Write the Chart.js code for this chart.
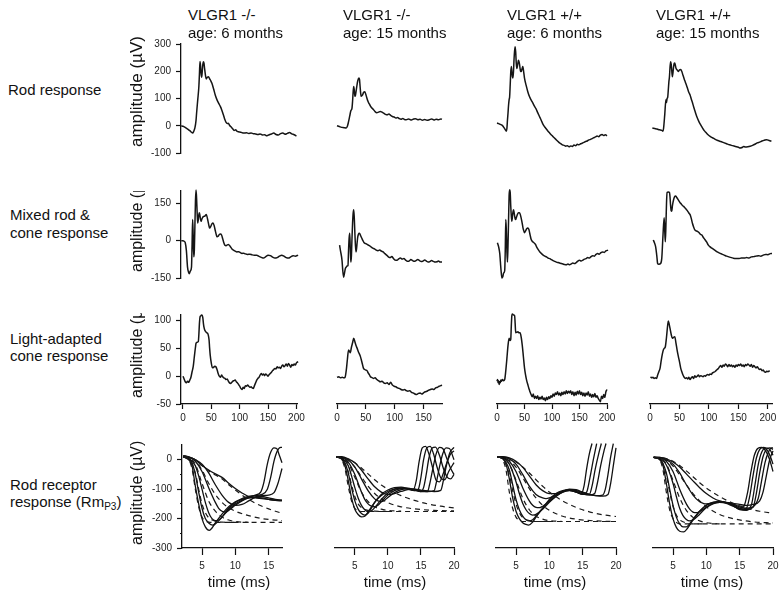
<!DOCTYPE html>
<html><head><meta charset="utf-8">
<script src="https://cdn.jsdelivr.net/npm/chart.js@4.4.1/dist/chart.umd.min.js"></script>
<style>
html,body{margin:0;padding:0;background:#fff;}
#fig{position:relative;width:783px;height:600px;overflow:hidden;font-family:"Liberation Sans",Arial,Helvetica,sans-serif;color:#111;}
canvas{position:absolute;}
.t{position:absolute;white-space:nowrap;font-size:15px;line-height:18px;}
.t sub{font-size:10px;vertical-align:-3px;line-height:0;}
.yt{position:absolute;overflow:hidden;width:26px;}
.yt span{position:absolute;left:0;transform-origin:0 0;transform:rotate(-90deg);white-space:nowrap;line-height:26px;}
</style></head><body><div id="fig"></div>
<script>
// ---------- text ----------
const colHeads = [["VLGR1 -/-","age: 6 months"],["VLGR1 -/-","age: 15 months"],["VLGR1 +/+","age: 6 months"],["VLGR1 +/+","age: 15 months"]];
const rowLabels = [["Rod response"],["Mixed rod &","cone response"],["Light-adapted","cone response"],["Rod receptor","response (Rm<sub>P3</sub>)"]];
const yTitle = "amplitude (µV)";
const xTitle = "time (ms)";

// ---------- tick values ----------
const rodTicks = [-100,0,100,200,300];
const mixTicks = [-150,0,150];
const laTicks = [-50,0,50,100];
const rmTicks = [-300,-250,-200,-150,-100,-50,0];
const timeTicks = [0,50,100,150,200];
const timeTicksKO15 = [0,50,100,150];
const msTicks = [5,10,15,20];
const msTicksKO6 = [5,10,15];

// ---------- Row 1: rod response [time ms, µV] ----------
const rodKO6 = [[-3,0],[0,-2],[3,-5],[6,-9],[9,-13],[12,-18],[15,-24],[17,-27],[19,-20],[21,-8],[23,20],[24,47],[26,95],[28,144],[29,190],[30,236],[31,220],[32,190],[33,178],[34,200],[35,225],[36,235],[37,230],[38,212],[40,180],[41,172],[43,178],[45,180],[47,172],[49,165],[51,156],[54,135],[57,112],[60,95],[63,82],[66,70],[68,60],[70,48],[72,35],[74,22],[76,12],[78,8],[80,9],[82,2],[85,-5],[88,-12],[90,-17],[93,-15],[95,-20],[98,-22],[102,-24],[107,-27],[112,-26],[116,-28],[120,-27],[124,-29],[128,-30],[132,-32],[136,-30],[140,-34],[144,-33],[148,-37],[152,-33],[156,-30],[160,-27],[164,-32],[168,-34],[172,-29],[176,-27],[180,-31],[184,-28],[188,-25],[192,-30],[196,-33],[200,-38]];
const rodKO15 = [[0,0],[4,-3],[8,-6],[12,-7],[16,-8],[18,-2],[20,15],[22,35],[24,55],[26,65],[27,90],[28,125],[29,144],[30,130],[31,108],[32,112],[34,140],[36,165],[38,175],[39,170],[40,145],[41,120],[42,108],[44,112],[46,122],[48,125],[50,115],[52,100],[54,88],[56,80],[58,72],[60,66],[63,60],[66,52],[69,48],[72,50],[75,52],[78,50],[81,46],[84,42],[87,40],[90,43],[93,38],[96,34],[99,32],[102,28],[105,30],[108,26],[111,24],[114,27],[117,23],[120,22],[124,25],[128,21],[132,24],[136,26],[140,22],[144,24],[148,20],[152,23],[156,20],[160,22],[164,25],[168,21],[172,24],[176,22],[180,25],[182,24]];
const rodWT6 = [[0,10],[3,8],[6,5],[9,2],[11,-2],[13,-8],[15,-14],[17,-20],[18,-10],[19,20],[20,46],[21,75],[22,95],[23,107],[24,150],[25,195],[26,217],[27,200],[28,180],[29,175],[30,200],[31,245],[32,275],[33,290],[34,270],[35,230],[36,210],[37,217],[38,230],[39,240],[40,235],[41,225],[42,210],[43,200],[44,199],[45,205],[46,212],[47,217],[48,205],[49,190],[50,175],[53,148],[56,125],[59,107],[62,95],[65,84],[68,72],[71,62],[74,48],[77,35],[80,22],[83,8],[86,-2],[89,-10],[92,-18],[95,-25],[98,-32],[101,-38],[104,-44],[107,-50],[110,-56],[113,-62],[116,-66],[119,-70],[122,-72],[125,-75],[128,-73],[131,-77],[134,-74],[137,-76],[140,-71],[143,-73],[146,-68],[149,-70],[152,-66],[155,-64],[158,-61],[161,-58],[164,-56],[167,-52],[170,-50],[173,-47],[176,-44],[179,-41],[182,-38],[185,-40],[188,-34],[191,-32],[194,-36],[197,-33],[200,-37]];
const rodWT15 = [[4,-8],[8,-10],[12,-12],[16,-15],[20,-17],[22,-20],[23,-10],[25,40],[27,95],[28,85],[29,100],[30,104],[31,130],[32,160],[33,180],[34,215],[35,235],[36,225],[37,200],[38,180],[39,195],[40,215],[41,228],[42,230],[43,222],[44,212],[46,205],[48,199],[50,205],[52,206],[54,199],[56,185],[58,172],[60,160],[62,148],[64,135],[66,122],[68,113],[70,98],[72,85],[74,70],[76,56],[78,42],[80,30],[83,15],[86,3],[89,-8],[92,-18],[95,-25],[98,-32],[102,-39],[106,-44],[110,-49],[115,-54],[120,-58],[125,-62],[130,-66],[135,-70],[140,-73],[145,-76],[150,-79],[153,-82],[156,-80],[159,-76],[162,-78],[166,-77],[170,-75],[174,-72],[178,-68],[182,-63],[186,-60],[190,-56],[194,-53],[198,-51],[202,-54],[206,-57]];

// ---------- Row 2: mixed rod & cone response ----------
const mixKO6 = [[-3,0],[0,0],[2,-2],[4,-8],[6,-40],[8,-106],[10,-128],[11,-133],[13,-122],[15,-106],[16,-20],[17,85],[18,20],[19,-65],[20,-40],[21,60],[22,160],[23,204],[24,170],[25,110],[26,71],[27,85],[28,105],[29,112],[30,100],[31,85],[32,78],[33,85],[35,95],[37,98],[39,100],[41,105],[42,100],[44,80],[46,58],[47,51],[49,58],[51,68],[53,71],[55,60],[57,40],[59,22],[60,16],[62,18],[64,25],[66,27],[68,23],[70,8],[72,-8],[74,-18],[76,-20],[78,-17],[80,-15],[83,-22],[86,-32],[89,-38],[92,-42],[95,-45],[98,-44],[101,-48],[104,-51],[107,-50],[110,-53],[114,-55],[118,-54],[122,-57],[126,-58],[130,-58],[134,-63],[138,-67],[142,-70],[146,-64],[150,-58],[154,-60],[158,-66],[162,-70],[166,-68],[170,-62],[174,-58],[178,-62],[182,-68],[186,-70],[190,-65],[194,-60],[198,-62],[203,-58]];
const mixKO15 = [[4.5,-18],[6,-40],[8.7,-79],[10,-120],[11.5,-147],[13,-130],[14.5,-112],[16,-106],[17.5,-102],[19,-100],[20,-40],[21,10],[22,30],[23,-30],[24,-86],[25,-60],[26,10],[27,70],[28,110],[29,125],[30,90],[31,30],[32,-20],[33,-45],[34,-30],[35,-5],[36,15],[37,25],[38,30],[39,30],[41,20],[43,10],[45,0],[47,-8],[50,-12],[53,-16],[56,-20],[59,-25],[62,-30],[65,-33],[68,-38],[71,-40],[74,-37],[77,-42],[80,-45],[83,-52],[86,-58],[89,-65],[92,-68],[95,-64],[98,-72],[101,-78],[104,-79],[107,-73],[110,-70],[113,-74],[116,-72],[119,-78],[122,-83],[125,-82],[128,-76],[131,-80],[134,-83],[137,-80],[140,-76],[143,-80],[146,-84],[149,-82],[152,-78],[155,-82],[158,-86],[161,-84],[164,-80],[167,-83],[170,-86],[173,-85],[176,-82],[179,-86],[182,-86]];
const mixWT6 = [[0.7,-8],[3,-25],[5,-51],[7,-110],[9,-150],[10.5,-145],[12,-130],[14,-120],[15,-40],[16,85],[17,40],[18,-40],[19,-86],[20,-20],[21,80],[22,180],[23,205],[24,195],[25,140],[26,100],[27,78],[28,95],[29,115],[30,125],[31,115],[32,100],[33,88],[34,85],[35,92],[37,105],[39,112],[41,112],[43,100],[45,80],[47,55],[48,45],[50,32],[52,40],[54,48],[56,51],[58,45],[60,25],[62,6],[64,-2],[66,-6],[68,-10],[70,-15],[72,-25],[75,-36],[78,-45],[81,-52],[84,-58],[87,-62],[90,-65],[93,-70],[96,-72],[99,-76],[102,-80],[105,-83],[108,-86],[111,-88],[114,-90],[117,-92],[120,-94],[123,-96],[126,-97],[129,-94],[132,-97],[135,-93],[138,-90],[141,-92],[144,-88],[147,-82],[150,-79],[153,-82],[156,-78],[159,-74],[162,-72],[165,-68],[168,-70],[171,-64],[174,-60],[177,-62],[180,-55],[183,-51],[186,-54],[189,-48],[192,-45],[195,-47],[198,-41],[202,-38]];
const mixWT15 = [[5.6,3],[7.5,-8],[9.6,-25],[11.5,-60],[13,-92],[15,-95],[18,-92],[20,-70],[22,20],[24,92],[25,40],[26,-4],[27,60],[28,150],[29,194],[31,196],[33,194],[34,175],[35,140],[36,120],[37,119],[38,140],[40,165],[42,178],[43.5,180],[45,175],[47,168],[49,160],[51,153],[53,148],[55,142],[57,138],[59,133],[61,128],[63,122],[65,115],[67,108],[68,105],[70,90],[72,70],[74,55],[76,44],[78,40],[80,38],[82,35],[84,30],[86,25],[88,23],[90,15],[93,5],[96,-5],[99,-18],[102,-25],[105,-30],[108,-35],[111,-40],[114,-45],[118,-50],[122,-54],[126,-58],[130,-62],[135,-66],[140,-69],[145,-72],[150,-72],[155,-70],[160,-70],[164,-68],[168,-70],[172,-65],[176,-64],[180,-62],[184,-60],[188,-62],[192,-58],[196,-55],[200,-56],[204,-52],[207,-51]];

// ---------- Row 3: light-adapted cone response ----------
const laKO6 = [[0,0],[2,-5],[4,-10],[6,-12],[8,-9],[10,-11],[12,-7],[14,-2],[16,8],[18,17],[20,35],[22,52],[23,59],[25,61],[27,62],[28,75],[29,95],[30,106],[31,108],[33,110],[35,105],[36,95],[37,88],[38,84],[40,80],[42,78],[44,76],[45,72],[46,65],[47,50],[48,38],[50,23],[52,15],[54,16],[56,18],[58,17],[60,12],[62,5],[64,0],[66,-2],[68,2],[70,-1],[72,-3],[74,-4],[76,-6],[78,-5],[80,-9],[82,-12],[84,-13],[86,-11],[88,-9],[90,-8],[92,-7],[94,-10],[96,-12],[98,-15],[100,-18],[102,-22],[104,-24],[106,-20],[108,-22],[110,-17],[112,-18],[114,-16],[116,-18],[118,-20],[120,-19],[122,-21],[124,-22],[126,-17],[128,-12],[130,-7],[132,-4],[134,-2],[136,2],[138,5],[140,2],[142,4],[144,1],[146,4],[148,2],[150,0],[152,3],[154,5],[156,7],[158,10],[160,12],[162,14],[164,13],[166,17],[168,15],[170,16],[172,14],[174,18],[176,20],[178,17],[180,19],[182,22],[184,18],[186,23],[188,20],[190,16],[192,21],[194,19],[196,22],[198,20],[200,24],[203,26]];
const laKO15 = [[0,-2],[3,-1],[6,-3],[9,-2],[12,-3],[14,-2],[16,10],[18,30],[20,47],[22,44],[23,42],[25,52],[27,60],[29,68],[31,62],[33,55],[35,50],[37,44],[40,37],[42,30],[44,22],[46,14],[48,12],[50,11],[52,10],[54,6],[56,3],[58,-1],[60,-2],[63,-4],[66,-3],[69,-6],[72,-8],[75,-10],[78,-9],[81,-12],[84,-13],[87,-12],[90,-15],[93,-11],[96,-16],[99,-18],[102,-19],[105,-21],[108,-22],[111,-24],[114,-25],[117,-24],[120,-26],[123,-27],[126,-26],[129,-29],[132,-30],[135,-32],[138,-33],[141,-31],[144,-30],[147,-32],[150,-30],[153,-28],[156,-27],[159,-25],[162,-24],[165,-23],[168,-24],[171,-21],[174,-20],[177,-18],[180,-17],[182,-16]];
const laWT6 = [[0,-9],[1,-6],[2,-12],[3,-8],[4,-15],[5,-10],[6,-12],[7,-7],[8,-9],[10,-6],[12,-8],[14,-6],[16,10],[18,32],[20,55],[22,68],[24,64],[25,66],[26,90],[27,109],[28,112],[30,110],[32,109],[33,95],[34,78],[36,79],[38,80],[40,78],[42,78],[44,70],[46,55],[48,35],[50,15],[52,2],[54,-8],[56,-15],[58,-22],[59,-25],[60,-28],[62,-33],[64,-37],[66,-32],[68,-40],[70,-36],[72,-40],[74,-35],[76,-42],[78,-38],[80,-41],[82,-36],[84,-42],[86,-39],[88,-44],[90,-38],[92,-42],[94,-37],[96,-40],[98,-35],[100,-38],[102,-32],[104,-36],[106,-30],[108,-33],[110,-28],[112,-34],[114,-30],[116,-35],[118,-29],[120,-33],[122,-28],[124,-32],[126,-26],[128,-31],[130,-27],[132,-30],[134,-26],[136,-33],[138,-28],[140,-35],[142,-29],[144,-34],[146,-27],[148,-32],[150,-26],[152,-33],[154,-29],[156,-35],[158,-30],[160,-36],[162,-30],[164,-34],[166,-28],[168,-36],[170,-32],[172,-38],[174,-33],[176,-37],[178,-31],[180,-38],[182,-35],[184,-40],[186,-43],[188,-46],[190,-36],[192,-40],[194,-33],[196,-38],[198,-28],[200,-24]];
const laWT15 = [[1,-1],[3,-3],[5,-2],[7,-4],[9,-3],[11,-4],[13,2],[15,8],[17,14],[19,28],[21,40],[22.6,47],[24,50],[26,53],[28,70],[30,92],[31,99],[32,96],[34,86],[36,75],[38,68],[40,70],[42,71],[44,60],[46,47],[48,36],[50,26],[52,15],[54,8],[56,2],[58,-2],[60,-4],[62,-3],[64,-5],[66,-2],[68,-6],[70,-3],[72,-1],[74,-4],[76,1],[78,-2],[80,0],[82,2],[84,-1],[86,1],[88,0],[90,-1],[92,1],[94,0],[96,2],[98,3],[100,2],[102,4],[104,3],[106,6],[108,7],[110,8],[112,10],[114,12],[116,14],[118,17],[120,19],[122,16],[124,20],[126,18],[128,22],[130,20],[132,17],[134,21],[136,18],[138,20],[140,17],[142,19],[144,16],[146,20],[148,18],[150,21],[152,19],[154,22],[156,18],[158,20],[160,17],[162,21],[164,19],[166,22],[168,20],[170,18],[172,21],[174,16],[176,19],[178,17],[180,15],[182,17],[184,14],[186,12],[188,13],[190,10],[192,11],[194,8],[196,7],[198,9],[200,8],[203,10]];

// ---------- Row 4: rod receptor response (RmP3), solid = recordings, dashed = fits ----------
const rmKO6Solid = [
 [[2.2,10],[3,0],[3.5,-20],[4,-90],[4.5,-150],[5,-200],[5.5,-228],[6.1,-240],[6.5,-232],[7,-215],[8,-185],[9,-160],[10,-143],[11,-132],[12,-125],[13,-120],[13.8,-110],[14.3,-75],[14.8,-15],[15.3,25],[15.8,40],[16.2,38],[16.6,15],[17,-10]],
 [[2.2,10],[3,3],[3.5,-10],[4,-50],[4.5,-110],[5,-165],[5.5,-200],[6,-215],[6.6,-222],[7,-218],[8,-195],[9,-165],[10,-145],[11,-135],[12,-128],[13,-122],[14,-118],[14.8,-100],[15.3,-60],[15.8,-5],[16.3,30],[16.8,42],[17,42]],
 [[2.2,10],[3,5],[4,-20],[4.5,-55],[5,-100],[5.5,-145],[6,-180],[6.5,-200],[7,-207],[7.5,-205],[8,-195],[9,-170],[10,-150],[11,-138],[12,-130],[13,-126],[14,-122],[15,-120],[15.8,-112],[16.4,-80],[17,-30]],
 [[2.2,10],[3,8],[4,-5],[5,-40],[6,-95],[7,-145],[7.5,-165],[8,-175],[8.5,-178],[9,-172],[10,-155],[11,-140],[12,-130],[13,-128],[14,-130],[15,-135],[16,-138],[17,-138]],
 [[2.2,12],[3,10],[4,0],[5,-15],[6,-45],[7,-85],[8,-120],[9,-145],[10,-155],[11,-152],[12,-140],[13,-128],[14,-125],[15,-130],[16,-135],[17,-137]],
 [[2.2,14],[3,10],[4,0],[5,-20],[6,-35],[7,-48],[8,-60],[9,-80],[10,-98],[11,-113],[12,-125],[13,-130],[14,-132],[15,-135],[16,-138],[17,-140]]
];
const rmKO6Dash = [
 [[2.2,10],[3,0],[3.5,-30],[4,-100],[4.5,-160],[5,-195],[5.5,-208],[6,-212],[7,-213],[17,-213]],
 [[2.2,10],[3,3],[4,-45],[4.5,-100],[5,-150],[5.5,-180],[6,-197],[7,-209],[8,-212],[10,-213]],
 [[2.2,10],[3,5],[4,-15],[5,-80],[6,-140],[7,-175],[8,-195],[9,-205],[10,-210],[12,-213]],
 [[2.2,12],[4,-3],[5,-35],[6,-80],[7,-118],[8,-145],[9,-163],[10,-175],[12,-190],[14,-200],[17,-207]],
 [[2.2,14],[4,0],[5,-20],[6,-38],[7,-52],[8,-65],[9,-85],[10,-103],[11,-120],[12,-135],[13,-148],[14,-158],[15,-167],[16,-175],[17,-182]]
];
const rmKO15Solid = [
 [[2.2,10],[3,2],[3.5,-20],[4,-70],[4.5,-130],[5,-168],[5.5,-186],[6,-194],[6.5,-192],[7,-178],[8,-145],[9,-122],[10,-108],[11,-100],[12,-97],[13,-100],[13.8,-104],[14.3,-70],[14.7,-10],[15.2,40],[15.7,45],[16.2,20],[16.8,-30],[17.3,-70],[17.8,-75],[18.4,-45],[19,-5],[19.5,20],[20,30]],
 [[2.2,10],[3,4],[3.5,-10],[4,-45],[4.5,-95],[5,-140],[5.5,-168],[6,-183],[6.5,-188],[7,-182],[7.5,-165],[8,-145],[9,-118],[10,-103],[11,-95],[12,-93],[13,-98],[14,-105],[14.6,-100],[15,-60],[15.4,0],[15.9,40],[16.4,45],[16.9,20],[17.5,-30],[18.1,-65],[18.6,-68],[19.2,-40],[20,-10]],
 [[2.2,10],[3,6],[4,-20],[4.5,-55],[5,-95],[5.5,-130],[6,-155],[6.5,-170],[7,-176],[7.5,-174],[8,-163],[9,-135],[10,-113],[11,-100],[12,-96],[13,-98],[14,-104],[15,-108],[15.4,-95],[15.8,-50],[16.2,5],[16.7,40],[17.2,43],[17.8,15],[18.4,-30],[19,-60],[19.5,-65],[20,-50]],
 [[2.2,10],[3,8],[4,-8],[5,-50],[5.5,-80],[6,-110],[6.5,-135],[7,-150],[7.5,-158],[8,-160],[8.5,-155],[9,-143],[10,-120],[11,-105],[12,-98],[13,-97],[14,-102],[15,-108],[16,-108],[16.3,-85],[16.8,-30],[17.3,20],[17.8,42],[18.3,38],[18.9,5],[19.5,-30],[20,-50]],
 [[2.2,10],[3,9],[4,0],[5,-25],[6,-65],[7,-105],[8,-133],[8.5,-140],[9,-142],[9.5,-138],[10,-128],[11,-112],[12,-102],[13,-98],[14,-100],[15,-106],[16,-108],[17,-105],[17.3,-80],[17.8,-25],[18.3,20],[18.8,40],[19.3,38],[20,0]],
 [[2.2,10],[3,10],[4,3],[5,-10],[6,-35],[7,-65],[8,-92],[9,-110],[10,-118],[11,-115],[12,-108],[13,-102],[14,-100],[15,-103],[16,-106],[17,-108],[18,-104],[18.4,-70],[18.9,-15],[19.4,25],[20,42]]
];
const rmKO15Dash = [
 [[2.2,10],[3,0],[3.5,-30],[4,-90],[4.5,-140],[5,-165],[5.5,-173],[6,-176],[20,-176]],
 [[2.2,10],[3,3],[4,-40],[4.5,-85],[5,-125],[5.5,-150],[6,-163],[7,-172],[8,-175],[10,-176]],
 [[2.2,10],[3,5],[4,-12],[5,-60],[6,-110],[7,-142],[8,-160],[9,-168],[10,-172],[12,-175]],
 [[2.2,10],[4,-3],[5,-25],[6,-58],[7,-90],[8,-115],[9,-133],[10,-146],[12,-160],[14,-167],[17,-172],[20,-174]],
 [[2.2,10],[4,2],[5,-10],[6,-28],[7,-48],[8,-68],[9,-86],[10,-100],[12,-122],[14,-138],[16,-150],[18,-158],[20,-164]]
];
const rmWT6Solid = [
 [[2.2,10],[3,3],[3.5,-15],[4,-65],[4.5,-130],[5,-175],[5.5,-200],[6,-214],[6.5,-220],[6.9,-222],[7.5,-212],[8,-195],[9,-165],[10,-135],[11,-115],[12,-105],[13,-102],[14,-108],[14.8,-115],[15.2,-90],[15.6,-30],[16,20],[16.4,55]],
 [[2.2,10],[3,5],[4,-35],[4.5,-85],[5,-135],[5.5,-170],[6,-192],[6.5,-204],[7,-208],[7.5,-204],[8,-192],[9,-165],[10,-140],[11,-120],[12,-108],[13,-104],[14,-110],[15,-117],[15.6,-110],[16.1,-60],[16.6,0],[17.1,55]],
 [[2.2,10],[3,7],[4,-15],[5,-75],[5.5,-115],[6,-148],[6.5,-170],[7,-183],[7.5,-188],[8,-186],[9,-168],[10,-145],[11,-124],[12,-110],[13,-105],[14,-110],[15,-118],[16,-118],[16.4,-90],[16.9,-30],[17.4,20],[17.8,55]],
 [[2.2,10],[3,8],[4,-5],[5,-40],[6,-95],[7,-140],[7.5,-155],[8,-162],[8.5,-163],[9,-158],[10,-142],[11,-124],[12,-110],[13,-104],[14,-108],[15,-116],[16,-120],[16.8,-115],[17.2,-80],[17.7,-20],[18.2,30],[18.5,55]],
 [[2.2,10],[3,9],[4,3],[5,-15],[6,-50],[7,-90],[8,-118],[9,-130],[9.5,-132],[10,-130],[11,-120],[12,-108],[13,-100],[14,-102],[15,-110],[16,-118],[17,-122],[18,-120],[18.4,-100],[18.8,-50],[19.2,10],[19.6,55]],
 [[2.2,10],[3,10],[4,6],[5,-5],[6,-25],[7,-55],[8,-85],[9,-105],[10,-115],[11,-115],[12,-108],[13,-102],[14,-104],[15,-112],[16,-118],[17,-122],[18,-124],[18.8,-118],[19.2,-80],[19.6,-20],[20,40]]
];
const rmWT6Dash = [
 [[2.2,10],[3,0],[3.5,-35],[4,-110],[4.5,-165],[5,-195],[5.5,-206],[6,-210],[20,-210]],
 [[2.2,10],[3,3],[4,-50],[4.5,-105],[5,-150],[5.5,-180],[6,-196],[7,-207],[8,-210],[10,-210]],
 [[2.2,10],[3,5],[4,-15],[5,-70],[6,-130],[7,-170],[8,-192],[9,-202],[10,-207],[12,-210]],
 [[2.2,10],[4,-3],[5,-25],[6,-60],[7,-98],[8,-130],[9,-155],[10,-172],[12,-192],[14,-202],[17,-208],[20,-210]],
 [[2.2,10],[4,3],[5,-8],[6,-25],[7,-45],[8,-68],[9,-90],[10,-110],[12,-140],[14,-162],[16,-177],[18,-187],[20,-193]]
];
const rmWT15Solid = [
 [[2.1,8],[3,0],[3.5,-20],[4,-80],[4.5,-150],[5,-200],[5.5,-230],[6,-243],[6.6,-245],[7.2,-232],[8,-205],[9,-175],[10,-155],[11,-145],[12,-143],[13,-148],[14,-158],[15,-165],[15.6,-160],[16.2,-110],[16.7,-40],[17.2,15],[17.7,38],[18.3,42],[18.9,30],[19.5,0],[20,-40]],
 [[2.1,8],[3,3],[4,-45],[4.5,-100],[5,-155],[5.5,-195],[6,-218],[6.5,-228],[7,-228],[7.5,-218],[8,-202],[9,-175],[10,-155],[11,-145],[12,-142],[13,-146],[14,-156],[15,-168],[16,-165],[16.5,-125],[17,-55],[17.5,5],[18,35],[18.6,42],[19.2,30],[19.7,5],[20,-15]],
 [[2.1,8],[3,5],[4,-18],[5,-80],[5.5,-125],[6,-165],[6.5,-190],[7,-203],[7.5,-208],[8,-205],[9,-185],[10,-162],[11,-148],[12,-143],[13,-146],[14,-155],[15,-170],[16,-172],[16.8,-150],[17.3,-85],[17.8,-15],[18.3,25],[18.9,40],[19.5,35],[20,15]],
 [[2.1,8],[3,7],[4,-5],[5,-40],[6,-100],[7,-150],[7.5,-168],[8,-178],[8.5,-180],[9,-176],[10,-162],[11,-150],[12,-145],[13,-146],[14,-152],[15,-165],[16,-170],[17,-162],[17.5,-115],[18,-45],[18.5,10],[19,35],[19.5,40],[20,35]],
 [[2.1,8],[3,8],[4,0],[5,-15],[6,-45],[7,-85],[8,-120],[9,-143],[9.5,-148],[10,-150],[11,-148],[12,-145],[13,-146],[14,-150],[15,-160],[16,-165],[17,-160],[17.8,-130],[18.3,-70],[18.8,-10],[19.3,25],[19.8,40],[20,40]],
 [[2.1,8],[3,8],[4,3],[5,-8],[6,-25],[7,-48],[8,-72],[9,-95],[10,-115],[11,-130],[12,-140],[13,-145],[14,-148],[15,-152],[16,-155],[17,-152],[18,-140],[18.5,-110],[19,-55],[19.5,0],[20,30]]
];
const rmWT15Dash = [
 [[2.1,8],[3,0],[3.5,-35],[4,-110],[4.5,-170],[5,-200],[5.5,-213],[6,-218],[20,-218]],
 [[2.1,8],[3,3],[4,-50],[4.5,-110],[5,-158],[5.5,-188],[6,-204],[7,-215],[8,-218],[10,-218]],
 [[2.1,8],[3,5],[4,-15],[5,-70],[6,-130],[7,-172],[8,-196],[9,-208],[10,-214],[12,-218]],
 [[2.1,8],[4,-2],[5,-22],[6,-52],[7,-85],[8,-115],[9,-140],[10,-160],[12,-186],[14,-200],[17,-211],[20,-215]],
 [[2.1,8],[4,4],[5,-5],[6,-20],[7,-38],[8,-58],[9,-78],[10,-96],[12,-125],[14,-148],[16,-164],[18,-175],[20,-182]]
];

// ---------- layout ----------
const fig = document.getElementById('fig');
const FONT = '"Liberation Sans", Arial, Helvetica, sans-serif';
const PAD = 12;

function addText(html, left, cy, size) {
  const d = document.createElement('div');
  d.className = 't';
  d.innerHTML = html;
  d.style.left = left + 'px';
  d.style.fontSize = size + 'px';
  d.style.top = (cy - 9) + 'px';
  fig.appendChild(d);
}
function addYTitle(text, cx, yStart, clipTop, size) {
  const c = document.createElement('div');
  c.className = 'yt';
  c.style.left = (cx - 13) + 'px';
  c.style.top = clipTop + 'px';
  c.style.height = (yStart - clipTop) + 'px';
  const s = document.createElement('span');
  s.textContent = text;
  s.style.fontSize = size + 'px';
  s.style.top = (yStart - clipTop) + 'px';
  c.appendChild(s);
  fig.appendChild(c);
}

const pairs = a => a.map(p => ({x: p[0], y: p[1]}));

function axisCfg(show, min, max, ticks, size, tickLen, pad, minorStep) {
  return {
    type: 'linear', display: show, min: min, max: max,
    afterFit: s => { if (s.isHorizontal()) s.height = size; else s.width = size; },
    afterBuildTicks: s => { s.ticks = ticks.map(v => ({value: v})); },
    grid: {
      display: true, drawOnChartArea: false, drawTicks: true, tickLength: tickLen,
      tickColor: '#111', tickWidth: 1.2,
      tickBorderDash: ctx => (minorStep && ctx.tick && Math.abs(ctx.tick.value % minorStep) > 0.01) ? [0, 3, 3, 30] : []
    },
    border: {display: true, color: '#111', width: 1.3},
    ticks: {
      padding: pad, color: '#222', font: {family: FONT, size: 10},
      maxRotation: 0, autoSkip: false,
      callback: v => (minorStep && Math.abs(v % minorStep) > 0.01) ? '' : String(v)
    }
  };
}

function panel(p, datasets) {
  const x0 = Math.round(p.x0), x1 = Math.round(p.x1), y0 = Math.round(p.y0), y1 = Math.round(p.y1);
  const yW = p.showY ? 40 : 0;
  const xH = p.showX ? 30 : 0;
  const cv = document.createElement('canvas');
  const cw = PAD + yW + (x1 - x0) + PAD;
  const ch = PAD + (y1 - y0) + xH + PAD;
  cv.width = cw; cv.height = ch;
  cv.style.width = cw + 'px'; cv.style.height = ch + 'px';
  cv.style.left = (x0 - yW - PAD) + 'px';
  cv.style.top = (y0 - PAD) + 'px';
  fig.appendChild(cv);
  new Chart(cv, {
    type: 'line',
    data: {datasets: datasets},
    options: {
      responsive: false, animation: false, events: [],
      layout: {padding: PAD},
      plugins: {legend: {display: false}, tooltip: {enabled: false}},
      elements: {point: {radius: 0}},
      scales: {
        x: axisCfg(p.showX, p.xmin, p.xmax, p.xTicks || [], xH, p.xTickLen || 5, p.xPad || 3, 0),
        y: axisCfg(p.showY, p.ymin, p.ymax, p.yTicks || [], yW, 5, 5, p.minor || 0)
      }
    }
  });
}

function trace(a) {
  return {data: pairs(a), borderColor: '#151515', borderWidth: 1.5, cubicInterpolationMode: 'monotone', clip: false, pointRadius: 0};
}
function rmSets(solid, dash) {
  const out = [];
  dash.forEach(c => out.push({data: pairs(c), borderColor: '#1a1a1a', borderWidth: 1.2, borderDash: [5, 4], cubicInterpolationMode: 'monotone', clip: false, pointRadius: 0}));
  solid.forEach(c => out.push({data: pairs(c), borderColor: '#111', borderWidth: 1.3, cubicInterpolationMode: 'monotone', clip: false, pointRadius: 0}));
  return out;
}

const cols13 = [
  {x0: 181, x1: 297, xmin: -3.5, xmax: 201, xTicks: timeTicks},
  {x0: 337, x1: 442, xmin: 0, xmax: 182, xTicks: timeTicksKO15},
  {x0: 497, x1: 607, xmin: 0, xmax: 200, xTicks: timeTicks},
  {x0: 650, x1: 772, xmin: 0, xmax: 207, xTicks: timeTicks}
];
const cols4 = [
  {x0: 182, x1: 282, xmin: 2, xmax: 17, xTicks: msTicksKO6},
  {x0: 335, x1: 454, xmin: 2, xmax: 20, xTicks: msTicks},
  {x0: 496, x1: 616, xmin: 2, xmax: 20, xTicks: msTicks},
  {x0: 653, x1: 773, xmin: 2, xmax: 20, xTicks: msTicks}
];
const rowGeo = [
  {y0: 44, y1: 153, ymin: -100, ymax: 300, yTicks: rodTicks},
  {y0: 191, y1: 278, ymin: -150, ymax: 200, yTicks: mixTicks},
  {y0: 315, y1: 404, ymin: -50, ymax: 110, yTicks: laTicks},
  {y0: 445, y1: 548, ymin: -300, ymax: 50, yTicks: rmTicks, minor: 100}
];
const rowData = [[rodKO6, rodKO15, rodWT6, rodWT15], [mixKO6, mixKO15, mixWT6, mixWT15], [laKO6, laKO15, laWT6, laWT15]];
const rmData = [[rmKO6Solid, rmKO6Dash], [rmKO15Solid, rmKO15Dash], [rmWT6Solid, rmWT6Dash], [rmWT15Solid, rmWT15Dash]];

for (let r = 0; r < 3; r++) {
  for (let c = 0; c < 4; c++) {
    const p = Object.assign({}, cols13[c], rowGeo[r], {showY: c === 0, showX: r === 2, xTickLen: 5, xPad: 3});
    panel(p, [trace(rowData[r][c])]);
  }
}
for (let c = 0; c < 4; c++) {
  const p = Object.assign({}, cols4[c], rowGeo[3], {showY: c === 0, showX: true, xTickLen: 7, xPad: 5});
  panel(p, rmSets(rmData[c][0], rmData[c][1]));
}

// ---------- text ----------
const headX = [188, 343, 507, 656];
colHeads.forEach((h, i) => { addText(h[0], headX[i], 15, 15); addText(h[1], headX[i], 33, 15); });
const rowLabelY = [[90], [215, 233], [339, 356], [485, 502]];
rowLabels.forEach((lines, i) => lines.forEach((l, j) => addText(l, i === 0 ? 8 : 10, rowLabelY[i][j], 15)));
addYTitle(yTitle, 137, 147, 20, 17);
addYTitle(yTitle, 137, 272, 191, 16);
addYTitle(yTitle, 137, 398, 313, 16);
addYTitle(yTitle, 137, 545, 435, 16);
const timeX = [239, 395, 555, 712];
timeX.forEach(x => {
  const d = document.createElement('div');
  d.className = 't';
  d.textContent = xTitle;
  d.style.left = (x - 40) + 'px';
  d.style.width = '80px';
  d.style.textAlign = 'center';
  d.style.top = (582 - 9) + 'px';
  fig.appendChild(d);
});
</script></body></html>
